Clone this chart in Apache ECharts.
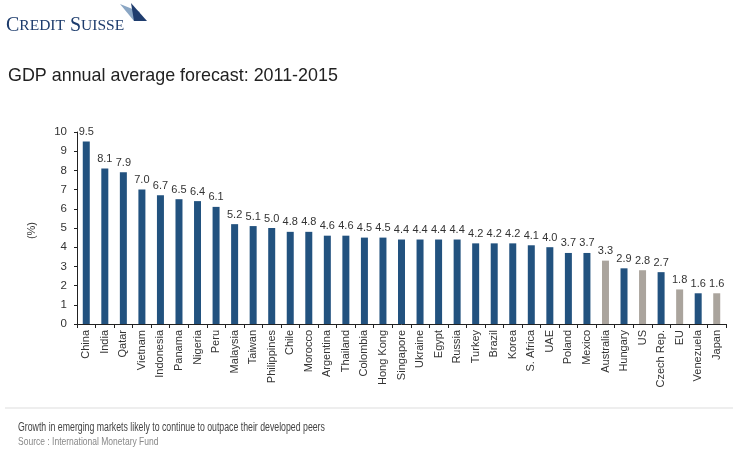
<!DOCTYPE html>
<html>
<head>
<meta charset="utf-8">
<script src="https://cdn.jsdelivr.net/npm/echarts@6/dist/echarts.min.js"></script>
<style>
html, body { margin: 0; padding: 0; background: #fff; }
#main { width: 733px; height: 454px; }
</style>
</head>
<body>
<div id="main"></div>
<script>
// countries, forecast values (%), and which ones are developed (grey)
var countries = ['China', 'India', 'Qatar', 'Vietnam', 'Indonesia', 'Panama', 'Nigeria', 'Peru',
  'Malaysia', 'Taiwan', 'Philippines', 'Chile', 'Morocco', 'Argentina', 'Thailand', 'Colombia',
  'Hong Kong', 'Singapore', 'Ukraine', 'Egypt', 'Russia', 'Turkey', 'Brazil', 'Korea', 'S. Africa',
  'UAE', 'Poland', 'Mexico', 'Australia', 'Hungary', 'US', 'Czech Rep.', 'EU', 'Venezuela', 'Japan'];
var gdp = [9.5, 8.1, 7.9, 7.0, 6.7, 6.5, 6.4, 6.1,
  5.2, 5.1, 5.0, 4.8, 4.8, 4.6, 4.6, 4.5,
  4.5, 4.4, 4.4, 4.4, 4.4, 4.2, 4.2, 4.2, 4.1,
  4.0, 3.7, 3.7, 3.3, 2.9, 2.8, 2.7, 1.8, 1.6, 1.6];
var developed = ['Australia', 'US', 'EU', 'Japan'];

var blue = '#22527f';
var grey = '#aaa49d';

var myChart = echarts.init(document.getElementById('main'));

var option = {
  backgroundColor: '#fff',
  animation: false,
  title: [{
    text: '{big|C}{sm|REDIT} {big|S}{sm|UISSE}',
    left: 6, top: 16, padding: 0,
    textStyle: {
      rich: {
        big: { fontFamily: 'Liberation Serif', fontSize: 20, fontWeight: 'normal', color: '#1c3b6c' },
        sm: { fontFamily: 'Liberation Serif', fontSize: 15.5, fontWeight: 'normal', color: '#1c3b6c' }
      }
    }
  }, {
    text: 'GDP annual average forecast: 2011-2015',
    left: 8, top: 67, padding: 0,
    textStyle: { fontFamily: 'Liberation Sans', fontSize: 17.9, fontWeight: 'normal', color: '#222' }
  }],
  graphic: [
    // sail logo
    { type: 'polygon', shape: { points: [[120, 4], [140, 12], [134, 21]] }, style: { fill: '#8aa6c4' } },
    { type: 'polygon', shape: { points: [[131, 3], [147, 21], [134, 21]] }, style: { fill: '#1f3d6e' } },
    // y axis name
    { type: 'text', left: 26, top: 222, rotation: Math.PI / 2,
      style: { text: '(%)', font: '11px "Liberation Sans"', fill: '#333' } },
    // separator line and footnotes (squeezed to match the narrow original face)
    { type: 'line', shape: { x1: 5, y1: 408, x2: 733, y2: 408 }, style: { stroke: '#ddd', lineWidth: 1 } },
    { type: 'text', x: 18, y: 421, scaleX: 0.7,
      style: { text: 'Growth in emerging markets likely to continue to outpace their developed peers',
        font: '12.5px "Liberation Sans"', fill: '#444' } },
    { type: 'text', x: 18, y: 436, scaleX: 0.74,
      style: { text: 'Source : International Monetary Fund', font: '11.5px "Liberation Sans"', fill: '#888' } }
  ],
  grid: { left: 77, right: 7, top: 132, bottom: 130, containLabel: false },
  xAxis: {
    type: 'category',
    data: countries,
    axisLine: { lineStyle: { color: '#222', width: 1 } },
    axisTick: { show: true, length: 4, lineStyle: { color: '#222' } },
    axisLabel: { rotate: 90, interval: 0, fontFamily: 'Liberation Sans', fontSize: 11, color: '#333', margin: 6 }
  },
  yAxis: {
    type: 'value',
    min: 0, max: 10, interval: 1,
    splitLine: { show: false },
    axisLine: { show: true, lineStyle: { color: '#222', width: 1 } },
    axisTick: { show: true, length: 3, lineStyle: { color: '#222' } },
    axisLabel: { fontFamily: 'Liberation Sans', fontSize: 11.5, color: '#333', margin: 10 }
  },
  series: [{
    type: 'bar',
    barWidth: 7,
    data: gdp.map(function (v, i) {
      return {
        value: v,
        itemStyle: { color: developed.indexOf(countries[i]) >= 0 ? grey : blue }
      };
    }),
    label: {
      show: true,
      position: 'top',
      distance: 4,
      fontFamily: 'Liberation Sans',
      fontSize: 11,
      color: '#333',
      formatter: function (p) { return p.value.toFixed(1); }
    }
  }]
};

myChart.setOption(option);
</script>
</body>
</html>
